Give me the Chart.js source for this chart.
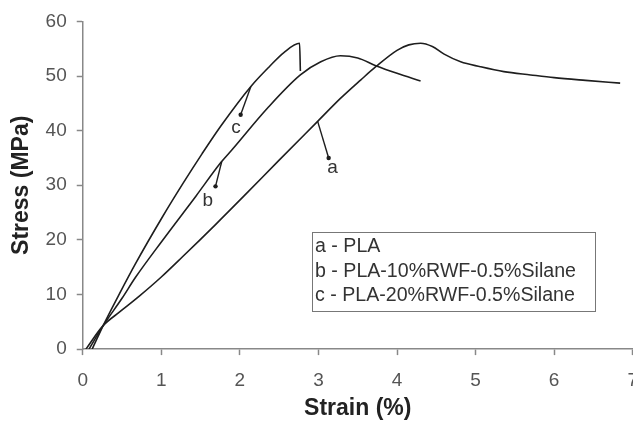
<!DOCTYPE html>
<html>
<head>
<meta charset="utf-8">
<script src="https://cdn.jsdelivr.net/npm/chart.js@4.4.0/dist/chart.umd.min.js"></script>
<style>
  html, body { margin: 0; padding: 0; background: #fff; overflow: hidden; }
  #wrap { width: 633px; height: 426px; overflow: hidden; }
</style>
</head>
<body>
<div id="wrap"><canvas id="stressChart" width="652" height="426"></canvas></div>
<script>
// curve a - PLA
const strainA = [0.04, 0.26, 0.47, 0.72, 1.0, 1.27, 1.69, 2.05, 2.5, 2.99, 3.28, 3.54, 3.73, 4.0, 4.15, 4.3, 4.45, 4.6, 4.81, 5.06, 5.36, 5.7, 6.0, 6.4, 6.84];
const stressA = [0, 4.3, 6.8, 9.7, 13.2, 16.9, 22.8, 28.0, 34.6, 41.7, 45.9, 49.3, 51.7, 54.7, 55.7, 56.0, 55.4, 54.0, 52.6, 51.7, 50.8, 50.2, 49.7, 49.2, 48.7];

// curve b - PLA-10%RWF-0.5%Silane
const strainB = [0.08, 0.26, 0.5, 0.67, 1.01, 1.44, 1.76, 1.9, 2.35, 2.77, 3.03, 3.28, 3.5, 3.73, 4.0, 4.3];
const stressB = [0, 4.3, 9.3, 13.1, 19.8, 28.0, 34.2, 36.5, 44.1, 50.2, 52.6, 53.7, 53.3, 51.9, 50.5, 49.1];

// curve c - PLA-20%RWF-0.5%Silane
const strainC = [0.12, 0.26, 0.47, 0.67, 1.01, 1.27, 1.52, 1.76, 2.14, 2.38, 2.56, 2.76, 2.77];
const stressC = [0, 4.3, 10.2, 15.6, 24.1, 30.2, 35.8, 40.9, 48.1, 51.8, 54.3, 56.0, 50.9];

// pointer arrows (from curve to letter) and letters
const noteNames = ["a", "b", "c"];
const arrowFromX = [2.99, 1.77, 2.14];
const arrowFromY = [41.7, 34.4, 48.1];
const arrowToX = [3.13, 1.69, 2.01];
const arrowToY = [35.0, 29.8, 42.9];
const noteX = [3.18, 1.59, 1.95];
const noteY = [33.2, 27.1, 40.5];

const legendLines = ["a - PLA", "b - PLA-10%RWF-0.5%Silane", "c - PLA-20%RWF-0.5%Silane"];

const FONT = "'Liberation Sans', Arial, sans-serif";

function toPoints(xs, ys) {
  return xs.map((v, i) => ({ x: v, y: ys[i] }));
}

function curve(xs, ys) {
  return {
    data: toPoints(xs, ys),
    showLine: true,
    borderColor: "#1e1e1e",
    borderWidth: 1.6,
    pointRadius: 0,
    cubicInterpolationMode: "monotone",
  };
}

const arrowSets = noteNames.map((n, i) => ({
  data: [
    { x: arrowFromX[i], y: arrowFromY[i] },
    { x: arrowToX[i], y: arrowToY[i] },
  ],
  showLine: true,
  borderColor: "#1e1e1e",
  borderWidth: 1.4,
  pointRadius: [0, 2.2],
  pointBackgroundColor: "#1e1e1e",
  pointBorderWidth: 0,
}));

// letters + legend box
const notesPlugin = {
  id: "notes",
  afterDatasetsDraw(chart) {
    const ctx = chart.ctx;
    const xs = chart.scales.x;
    const ys = chart.scales.y;
    ctx.save();
    ctx.font = "19px " + FONT;
    ctx.fillStyle = "#333";
    ctx.textAlign = "center";
    ctx.textBaseline = "middle";
    noteNames.forEach((t, i) => {
      ctx.fillText(t, xs.getPixelForValue(noteX[i]), ys.getPixelForValue(noteY[i]));
    });

    ctx.strokeStyle = "#777";
    ctx.lineWidth = 1;
    ctx.strokeRect(312.5, 232.5, 283, 79);
    ctx.font = "19.6px " + FONT;
    ctx.textAlign = "left";
    legendLines.forEach((t, i) => {
      ctx.fillText(t, 315, 247 + i * 24.2);
    });
    ctx.restore();
  },
};

new Chart(document.getElementById("stressChart"), {
  type: "scatter",
  data: {
    datasets: [
      curve(strainA, stressA),
      curve(strainB, stressB),
      curve(strainC, stressC),
      ...arrowSets,
    ],
  },
  options: {
    responsive: false,
    animation: false,
    devicePixelRatio: 1,
    layout: { padding: { top: 10, left: 2, right: 0, bottom: 0 } },
    plugins: { legend: { display: false }, tooltip: { enabled: false } },
    scales: {
      x: {
        type: "linear",
        min: 0,
        max: 7,
        ticks: { stepSize: 1, color: "#555", padding: 14, font: { family: FONT, size: 19 } },
        grid: { drawOnChartArea: false, drawTicks: true, tickLength: 6, tickColor: "#888", tickWidth: 1.5 },
        border: { color: "#888", width: 1.5 },
        title: {
          display: true,
          text: "Strain (%)",
          color: "#222",
          font: { family: FONT, size: 23, weight: "bold" },
          padding: { top: -11.5, bottom: 4 },
        },
      },
      y: {
        min: 0,
        max: 60,
        ticks: { stepSize: 10, color: "#555", padding: 10, font: { family: FONT, size: 19 } },
        grid: { drawOnChartArea: false, drawTicks: true, tickLength: 6, tickColor: "#888", tickWidth: 1.5 },
        border: { color: "#888", width: 1.5 },
        title: {
          display: true,
          text: "Stress (MPa)",
          color: "#222",
          font: { family: FONT, size: 23, weight: "bold" },
          padding: { top: 6, bottom: 0 },
        },
      },
    },
  },
  plugins: [notesPlugin],
});
</script>
</body>
</html>
